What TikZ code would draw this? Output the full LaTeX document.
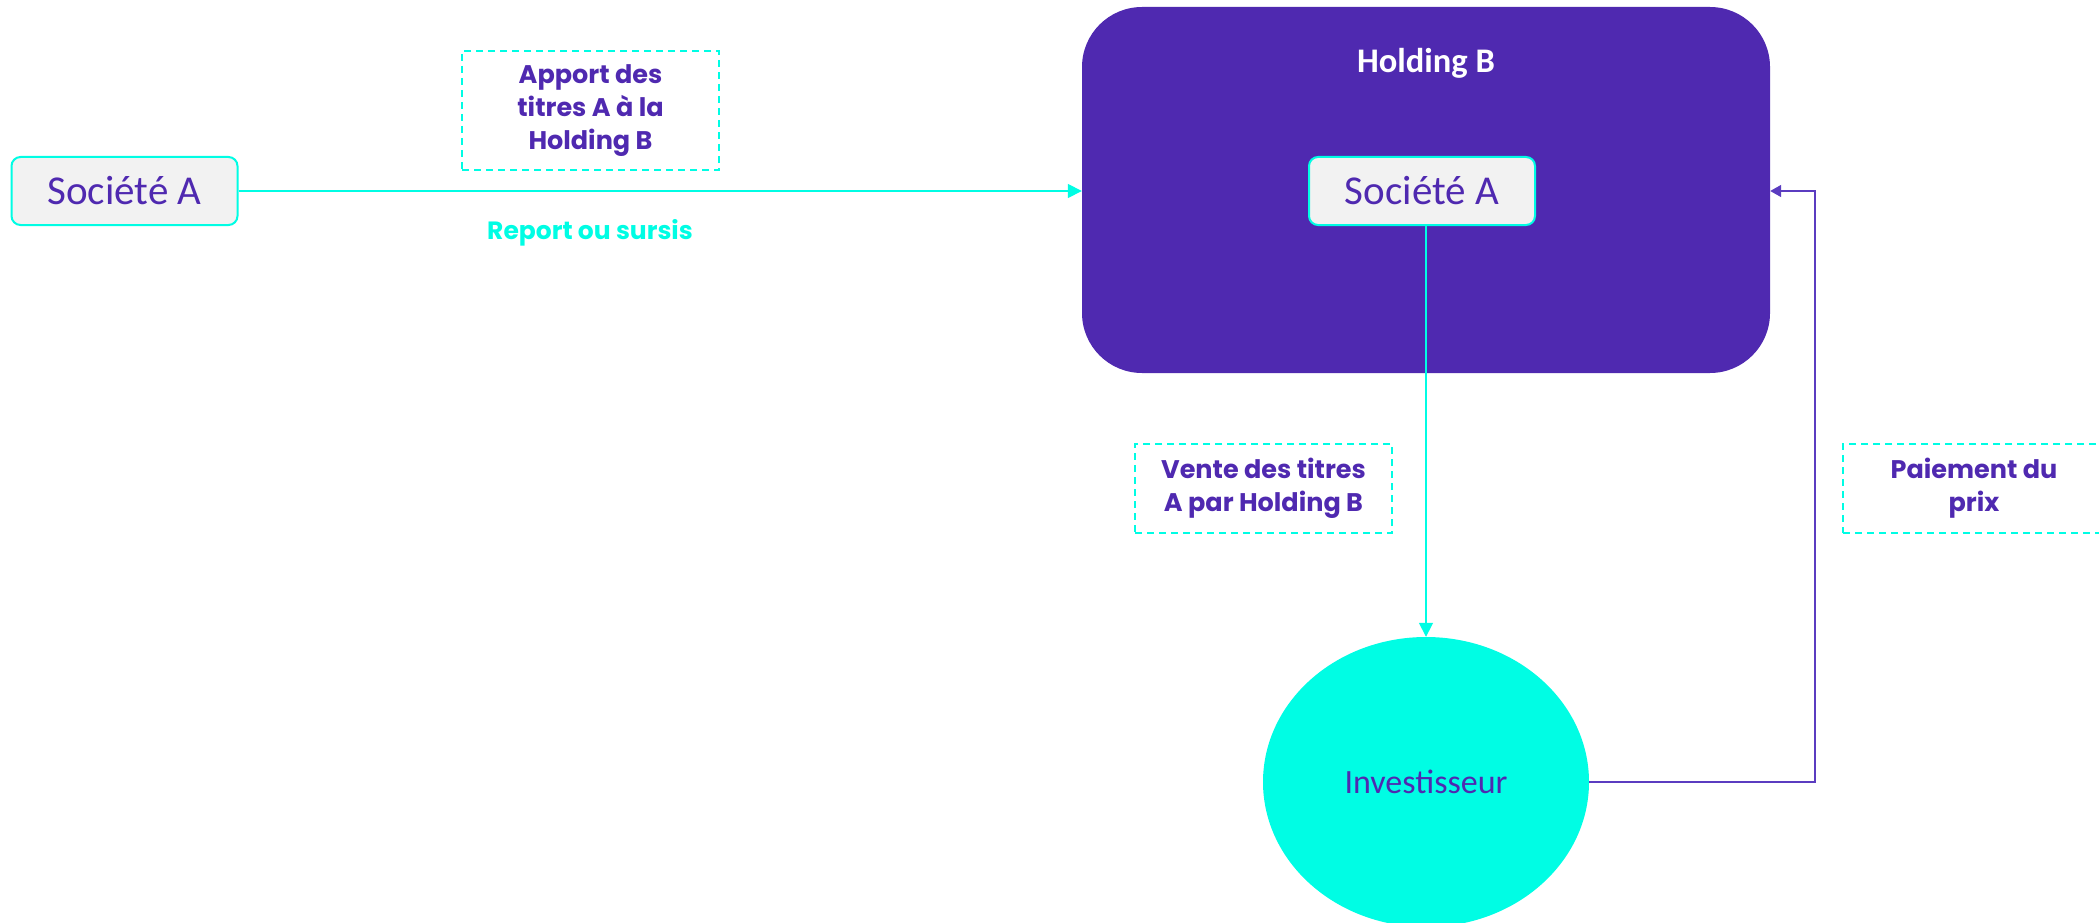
\documentclass[tikz,border=0pt]{standalone}
\usepackage{fontspec}
\usetikzlibrary{arrows.meta,shapes.geometric}
\newfontfamily\labfont{Poppins}
\newfontfamily\humfont{Carlito}
\definecolor{pur}{HTML}{4F29B0}
\definecolor{purline}{HTML}{5B3CC0}
\definecolor{cy}{HTML}{00FDE4}
\definecolor{boxgray}{HTML}{F2F2F2}
\tikzset{
  company/.style={draw=cy, line width=2pt, fill=boxgray, rounded corners=9pt,
    minimum width=226pt, minimum height=68pt, inner sep=0pt,
    font=\humfont\fontsize{41}{46}\selectfont, text=pur},
  dashlabel/.style={draw=cy, line width=2pt, dash pattern=on 7pt off 5pt,
    inner sep=0pt, align=center, text=pur,
    font=\labfont\bfseries\fontsize{25.5}{33}\selectfont},
  cyarrow/.style={draw=cy, line width=1.6pt, -{Triangle[length=14pt,width=14pt]}},
  purarrow/.style={draw=purline, line width=1.6pt, -{Triangle[length=11pt,width=12pt]}}
}
\begin{document}
\begin{tikzpicture}[x=1pt,y=-1pt]
\useasboundingbox (0,0) rectangle (2099,923);
% Holding B
\node[fill=pur, rounded corners=60pt, minimum width=688pt, minimum height=366pt,
      inner sep=0pt] (hold) at (1426,190) {};
\node[text=white, font=\humfont\bfseries\fontsize{34.5}{38}\selectfont] (holdt) at (1426,63) {Holding B};
% companies
\node[company] (socA) at (124.5,191) {Société A};
\node[company] (socB) at (1422,191) {Société A};
% investor
\node[ellipse, fill=cy, minimum width=326pt, minimum height=290pt, inner sep=0pt,
      text=pur, font=\humfont\fontsize{34}{40}\selectfont] (inv) at (1426,782) {Investisseur};
% labels
\node[dashlabel, minimum width=257pt, minimum height=119pt] (apport) at (590.5,110.5)
  {Apport des\\titres A à la\\Holding B};
\node[text=cy, font=\labfont\bfseries\fontsize{25}{28}\selectfont] (report) at (590,233) {Report ou sursis};
\node[dashlabel, minimum width=257pt, minimum height=89pt] (vente) at (1263.5,488.5)
  {Vente des titres\\A par Holding B};
\node[dashlabel, minimum width=262pt, minimum height=89pt] (paie) at (1974,488.5)
  {Paiement du\\prix};
% connectors
\draw[cyarrow] (socA.east) -- (hold.west |- socA.east);
\draw[cyarrow] (inv.north |- socB.south) -- (inv.north);
\coordinate (turn) at (1815,191);
\draw[purarrow] (inv.east) -| (turn) -- (hold.east |- turn);
\end{tikzpicture}
\end{document}
